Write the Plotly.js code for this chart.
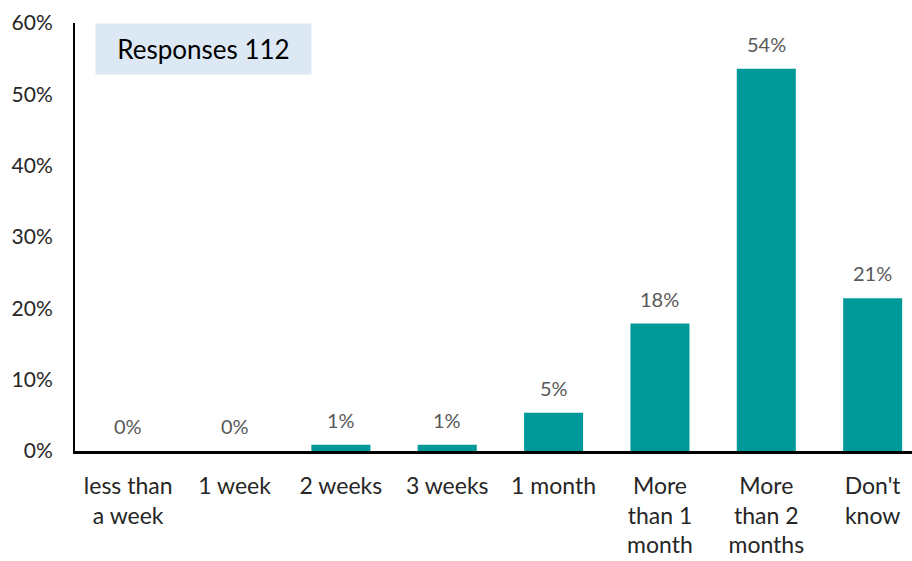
<!DOCTYPE html>
<html>
<head>
<meta charset="utf-8">
<script src="https://cdn.plot.ly/plotly-3.0.1.min.js"></script>
<style>html,body{margin:0;padding:0;background:#fff}#chart{width:912px;height:561px}</style>
</head>
<body>
<div id="chart"></div>
<script>
const categories = ["less than<br>a week", "1 week", "2 weeks", "3 weeks", "1 month", "More<br>than 1<br>month", "More<br>than 2<br>months", "Don't<br>know"];
const counts = [0, 0, 1, 1, 6, 20, 60, 24];
const totalResponses = 112;
const shares = counts.map(c => c / totalResponses);
const yTickVals = [0, 0.1, 0.2, 0.3, 0.4, 0.5, 0.6];
const boxText = "Responses " + totalResponses;

const FONT = "Lato, 'Open Sans', sans-serif";
const labelAnnotations = shares.map((v, i) => ({
  x: i, y: v, xref: 'x', yref: 'y', text: Math.round(v * 100) + '%',
  showarrow: false, yanchor: 'bottom', yshift: 11,
  font: {family: FONT, size: 20, color: '#595959'}
}));

const data = [{
  type: 'bar', x: categories.map((c, i) => i), y: shares,
  marker: {color: '#009999'}, width: 0.555, hoverinfo: 'skip'
}];

const layout = {
  width: 912, height: 561,
  margin: {l: 75, r: 0, t: 23, b: 110},
  paper_bgcolor: '#fff', plot_bgcolor: '#fff',
  showlegend: false,
  font: {family: FONT, color: '#262626'},
  xaxis: {
    range: [-0.5, 7.37], tickmode: 'array', tickvals: categories.map((c, i) => i), ticktext: categories,
    showgrid: false, zeroline: false, showline: true, linecolor: '#000', linewidth: 3,
    ticks: '', tickfont: {family: FONT, size: 23, color: '#262626'}, ticklabelstandoff: 12
  },
  yaxis: {
    range: [0, 0.6], tickmode: 'array', tickvals: yTickVals, tickformat: '.0%',
    showgrid: false, zeroline: false, showline: true, linecolor: '#000', linewidth: 2,
    ticks: '', tickfont: {family: FONT, size: 21, color: '#262626'}, ticklabelstandoff: 16
  },
  annotations: labelAnnotations.concat([{
    xref: 'paper', yref: 'paper', x: 0.024, y: 1.0, xanchor: 'left', yanchor: 'top',
    text: boxText, showarrow: false, bgcolor: '#dce8f4', width: 213, height: 48,
    align: 'center', valign: 'middle', font: {family: FONT, size: 26, color: '#000'}
  }])
};

Plotly.newPlot('chart', data, layout, {displayModeBar: false, staticPlot: true});
</script>
</body>
</html>
